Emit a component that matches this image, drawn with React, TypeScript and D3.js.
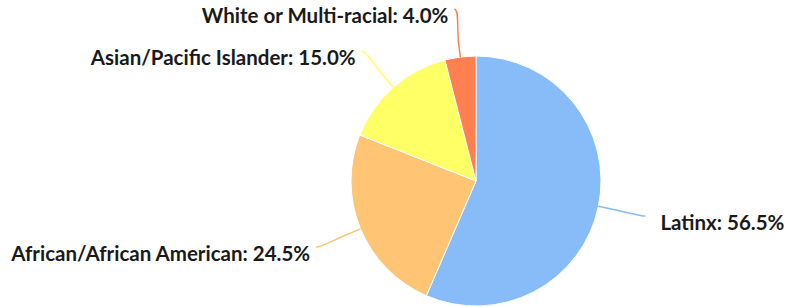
import * as d3 from "d3";

const categories = [
  "Latinx",
  "African/African American",
  "Asian/Pacific Islander",
  "White or Multi-racial",
];
const values = [56.5, 24.5, 15.0, 4.0];
const colors = ["#88bcf9", "#ffc574", "#ffff66", "#ff7f50"];

const width = 786;
const height = 307;

export default function App() {
  const cx = 476;
  const cy = 181;
  const r = 125;
  const labelDist = 48;
  const breakDist = 14;

  const pie = d3
    .pie<number>()
    .sort(null)
    .value((d) => d);
  const arcs = pie(values);
  const arcGen = d3.arc<d3.PieArcDatum<number>>().innerRadius(0).outerRadius(r);

  const slices = arcs.map((a, i) => (
    <path
      key={i}
      d={arcGen(a) || ""}
      fill={colors[i]}
      stroke="#ffffff"
      strokeWidth={1}
      strokeLinejoin="round"
    />
  ));

  const labels = arcs.map((a, i) => {
    const mid = (a.startAngle + a.endAngle) / 2;
    const sin = Math.sin(mid);
    const cos = Math.cos(mid);
    const left = sin < 0;
    const touch = [r * sin, -r * cos];
    const brk = [(r + breakDist) * sin, -(r + breakDist) * cos];
    const R = r + labelDist;
    const ly = -R * cos;
    const lx = (left ? -1 : 1) * Math.sqrt(Math.max(0, R * R - ly * ly));
    const path = d3.path();
    path.moveTo(lx, ly);
    path.bezierCurveTo(
      lx + (left ? 5 : -5),
      ly,
      2 * brk[0] - touch[0],
      2 * brk[1] - touch[1],
      brk[0],
      brk[1]
    );
    path.lineTo(touch[0], touch[1]);
    const text = `${categories[i]}: ${values[i].toFixed(1)}%`;
    return (
      <g key={i}>
        <path d={path.toString()} fill="none" stroke={colors[i]} strokeWidth={1.5} />
        <text
          x={left ? lx - 6 : lx + 15}
          y={ly + 14}
          textAnchor={left ? "end" : "start"}
          fontFamily="Lato, 'Open Sans', sans-serif"
          fontWeight="bold"
          fontSize={20.5}
          fill="#1a1a1a"
        >
          {text}
        </text>
      </g>
    );
  });

  return (
    <svg
      width={width}
      height={height}
      style={{ position: "absolute", left: 0, top: 0, background: "#ffffff" }}
    >
      <g transform={`translate(${cx},${cy})`}>
        {slices}
        {labels}
      </g>
    </svg>
  );
}
